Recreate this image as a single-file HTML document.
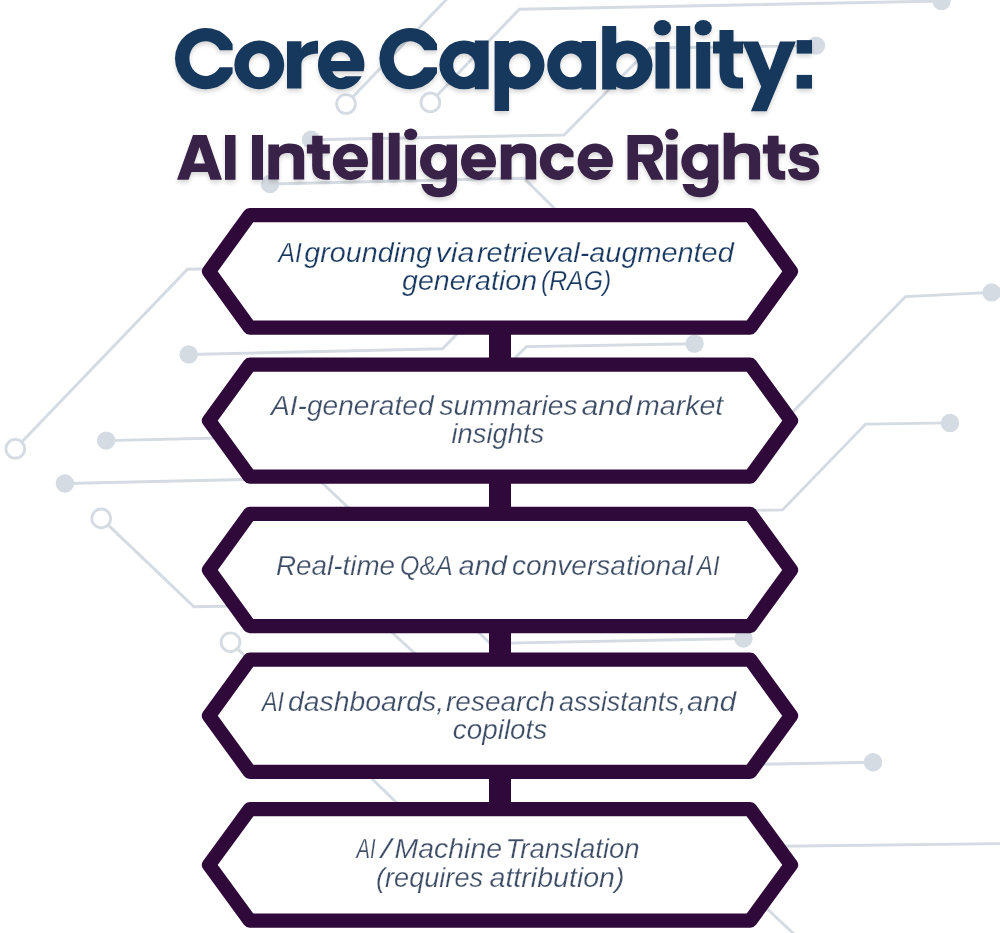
<!DOCTYPE html>
<html><head><meta charset="utf-8"><title>Core Capability: AI Intelligence Rights</title>
<style>
html,body{margin:0;padding:0;background:#ffffff;}
body{width:1000px;height:933px;overflow:hidden;font-family:"Liberation Sans", sans-serif;}
svg{display:block;}
</style></head><body>
<svg width="1000" height="933" viewBox="0 0 1000 933">
<defs>
<filter id="sh" x="-5%" y="-20%" width="110%" height="150%">
<feGaussianBlur in="SourceAlpha" stdDeviation="2.2"/>
<feOffset dx="0" dy="2.5" result="b"/>
<feComponentTransfer><feFuncA type="linear" slope="0.16"/></feComponentTransfer>
<feMerge><feMergeNode/><feMergeNode in="SourceGraphic"/></feMerge>
</filter>
<filter id="nf" x="-5%" y="-10%" width="110%" height="120%"><feOffset dx="0" dy="0"/></filter>
</defs>
<rect width="1000" height="933" fill="#ffffff"/>

<g fill="none" stroke="#d5dbe2" stroke-width="2.9" stroke-linejoin="miter">
<polyline points="447.8,-2 346,104"/>
<polyline points="941.6,1 519.3,9.2 430.4,102.4"/>
<polyline points="816,45.6 650,48 564,135 311,139.8"/>
<polyline points="270,184 524,178.2 560,214"/>
<polyline points="15.3,448.8 187.5,269.3 230,268.5"/>
<polyline points="188.7,354.5 442.4,348.7 462,329"/>
<polyline points="510,363 526.4,346.6 694.6,343.7"/>
<polyline points="106.1,440.6 240,437.5"/>
<polyline points="64.9,483.5 260,479.2"/>
<polyline points="101.2,518.4 193.9,606.8 240,606"/>
<polyline points="230.5,642.2 260,670"/>
<polyline points="316,477 355,514"/>
<polyline points="385,626 421,659"/>
<polyline points="472,626 496,649"/>
<polyline points="505,643.2 743.5,638.5"/>
<polyline points="365,772 403,809"/>
<polyline points="991.6,292.4 905.5,296.6 785,420"/>
<polyline points="950,422.9 865.6,424.1 782.5,509.9 740,510.5"/>
<polyline points="873,762.3 750,764.5"/>
<polyline points="780,846.2 1002,843.6"/>
<polyline points="760,902 795,935"/>
</g>
<g fill="#d5dbe2">
<circle cx="941.6" cy="1" r="9.2"/>
<circle cx="816" cy="45.6" r="9.2"/>
<circle cx="311" cy="139.8" r="9.2"/>
<circle cx="270" cy="184" r="9.2"/>
<circle cx="188.7" cy="354.5" r="9.2"/>
<circle cx="694.6" cy="343.7" r="9.2"/>
<circle cx="106.1" cy="440.6" r="9.2"/>
<circle cx="64.9" cy="483.5" r="9.2"/>
<circle cx="991.6" cy="292.4" r="9.2"/>
<circle cx="950" cy="422.9" r="9.2"/>
<circle cx="743.5" cy="638.5" r="9.2"/>
<circle cx="873" cy="762.3" r="9.2"/>
</g>
<g fill="#ffffff" stroke="#d5dbe2" stroke-width="2.8">
<circle cx="346" cy="104" r="9.4"/>
<circle cx="430.4" cy="102.4" r="9.4"/>
<circle cx="15.3" cy="448.8" r="9.4"/>
<circle cx="101.2" cy="518.4" r="9.4"/>
<circle cx="230.5" cy="642.2" r="9.4"/>
</g>
<g filter="url(#sh)" font-family="Liberation Sans">
<text x="787.0" y="179.2" fill="#392247" font-weight="bold" font-style="normal" font-size="65" textLength="33.79" lengthAdjust="spacingAndGlyphs" stroke="#392247" stroke-width="2" stroke-linejoin="miter" stroke-miterlimit="2">s</text>
<g fill="#18375c">
<path d="M232.60,44.2 A30.6,30.6 0 1,0 232.60,73.0 L232.60,67.3 L219.60,67.3 A16.2,17.4 0 1,1 219.80,50.2 L232.60,50.2 Z"/>
<path fill-rule="evenodd" d="M234.40,64.90 a24.9,24.3 0 1,0 49.80,0 a24.9,24.3 0 1,0 -49.80,0 Z M248.80,65.20 a10.4,12 0 1,0 20.80,0 a10.4,12 0 1,0 -20.80,0 Z"/>
<path d="M287,41.2 H301.4 V48.4 C305,43 311,40.75 318,40.75 V53.4 C309,53.4 302,57 301.4,63.7 V88.6 H287 Z"/>
<path fill-rule="evenodd" d="M363.56,71.35 A23.2,24.5 0 1,0 361.7,76.3 L345.5,76.3 A9.7,13 0 0,1 332.24,71.35 Z M331,61 A9.7,9 0 0,1 350.4,61 Z"/>
<path d="M437.00,44.2 A30.6,30.6 0 1,0 437.00,73.0 L437.00,67.3 L424.00,67.3 A16.2,17.4 0 1,1 424.20,50.2 L437.00,50.2 Z"/>
<path fill-rule="nonzero" d="M439.40,64.90 a24.6,24.4 0 1,0 49.20,0 a24.6,24.4 0 1,0 -49.20,0 Z M474.8,40.6 V89.30 H488.60 V40.6 Z M453.20,65.20 a10.8,11.8 0 1,1 21.60,0 a10.8,11.8 0 1,1 -21.60,0 Z"/>
<path fill-rule="nonzero" d="M494.70,65.05 a24.9,24.45 0 1,0 49.80,0 a24.9,24.45 0 1,0 -49.80,0 Z M494.6,41 V111.10 H509.00 V41 Z M509.00,65.35 a10.7,11.95 0 1,1 21.40,0 a10.7,11.95 0 1,1 -21.40,0 Z"/>
<path fill-rule="nonzero" d="M547.20,65.05 a24.4,24.45 0 1,0 48.80,0 a24.4,24.45 0 1,0 -48.80,0 Z M581.6,41 V89.60 H596.00 V41 Z M560.10,65.35 a10.75,11.95 0 1,1 21.50,0 a10.75,11.95 0 1,1 -21.50,0 Z"/>
<path fill-rule="nonzero" d="M602.70,65.05 a24.9,24.45 0 1,0 49.80,0 a24.9,24.45 0 1,0 -49.80,0 Z M602.2,26.1 V89.60 H616.20 V26.1 Z M616.20,65.35 a10.75,11.95 0 1,1 21.50,0 a10.75,11.95 0 1,1 -21.50,0 Z"/>
<ellipse cx="662.5" cy="27.8" rx="8.6" ry="7.8"/>
<rect x="655.5" y="42" width="14" height="46.6"/>
<rect x="676.2" y="26" width="14" height="62.6"/>
<ellipse cx="703.2" cy="27.8" rx="8.6" ry="7.8"/>
<rect x="696.2" y="42" width="14" height="46.6"/>
<path d="M719.5,30 H733.5 V41.5 H743 V53.5 H733.5 V71.5 Q733.5,77.5 739.5,77.5 H743 V88.6 H736.5 Q719.5,88.6 719.5,71 V53.5 H713 V41.5 H719.5 Z"/>
<path d="M742.3,41.4 L758.2,41.4 L769.7,70.2 L780,41.4 L795.9,41.4 L766.7,111.3 L750.9,111.3 L761.2,86.5 Z"/>
<rect x="796.7" y="40.1" width="15.3" height="13.5"/>
<rect x="796.7" y="74.9" width="15.3" height="13.7"/>
</g>
<g fill="#392247">
<path d="M268.4,179.6 V144.5 H279.10 V147.50 C281.60,144.80 285.10,143.4 289.10,143.4 C300.20,143.4 304.2,147.50 304.2,155.50 V179.6 H293.50 V158.00 C293.50,155.00 291.50,153.0 288.00,153.0 C282.10,153.0 279.10,155.50 279.10,159.50 V179.6 Z"/>
<path fill-rule="evenodd" d="M367.26,167.04 A17.6,18.15 0 1,0 366.06,170.13 L354.17,170.13 A7.39,9.62 0 0,1 344.18,167.04 Z M343.01,159.18 A7.30,7.13 0 0,1 357.62,159.18 Z"/>
<path fill-rule="nonzero" d="M420.00,161.75 a17.75,17.75 0 1,0 35.50,0 a17.75,17.75 0 1,0 -35.50,0 Z M446.5,144.5 V183.50 H457.00 V144.5 Z M431.00,161.50 a7.75,9.5 0 1,1 15.50,0 a7.75,9.5 0 1,1 -15.50,0 Z"/>
<path d="M457,180 V183 C457,192.5 449.5,197.2 439,197.2 C430,197.2 423,193.5 421.2,184 H432.5 C433.5,187 436,188.3 439,188.3 C443.5,188.3 446.5,185.5 446.5,181 V180 Z"/>
<path fill-rule="evenodd" d="M495.27,167.15 A17.5,18 0 1,0 494.07,170.21 L482.25,170.21 A7.35,9.54 0 0,1 472.31,167.15 Z M471.15,159.35 A7.26,7.07 0 0,1 485.68,159.35 Z"/>
<path d="M500.8,179.6 V144.5 H511.50 V147.50 C514.00,144.80 517.50,143.4 521.50,143.4 C532.20,143.4 536.2,147.50 536.2,155.50 V179.6 H525.50 V158.00 C525.50,155.00 523.50,153.0 520.00,153.0 C514.50,153.0 511.50,155.50 511.50,159.50 V179.6 Z"/>
<path d="M573.50,151.81 A18.3,18.3 0 1,0 573.50,171.59 L573.50,166.20 L564.29,166.20 A7.2,8.8 0 1,1 564.29,157.20 L573.50,157.20 Z"/>
<path fill-rule="evenodd" d="M612.26,166.93 A17.7,18.3 0 1,0 611.05,170.04 L599.09,170.04 A7.43,9.70 0 0,1 589.04,166.93 Z M587.87,159.01 A7.35,7.19 0 0,1 602.56,159.01 Z"/>
<path fill-rule="evenodd" d="M627.5,179.7 V135 H651 C658.5,135 663,140.5 663,148.5 C663,155 659.5,159.5 654,161.3 L663.5,179.7 H651.5 L642,162 H638 V179.7 Z M638,144 H650 C652.5,144 653.5,146 653.5,149.25 C653.5,152.5 652.5,154.5 650,154.5 H638 Z"/>
<path fill-rule="nonzero" d="M681.30,161.75 a17.75,17.75 0 1,0 35.50,0 a17.75,17.75 0 1,0 -35.50,0 Z M707.8,144.5 V183.50 H718.30 V144.5 Z M692.30,161.50 a7.75,9.5 0 1,1 15.50,0 a7.75,9.5 0 1,1 -15.50,0 Z"/>
<path d="M718.3,180 V183 C718.3,192.5 710.8,197.2 700.3,197.2 C691.3,197.2 684.3,193.5 682.5,184 H693.8 C694.8,187 697.3,188.3 700.3,188.3 C704.8,188.3 707.8,185.5 707.8,181 V180 Z"/>
<path d="M723.7,179.6 V132.7 H734.70 V147.50 C737.20,144.80 740.70,143.4 744.70,143.4 C756.10,143.4 760.1,147.50 760.1,155.50 V179.6 H749.10 V158.00 C749.10,155.00 747.10,153.0 743.60,153.0 C737.70,153.0 734.70,155.50 734.70,159.50 V179.6 Z"/>
<path fill-rule="evenodd" d="M177,179.8 L193,135 L206.5,135 L222,179.8 L210.5,179.8 L207.8,172 L191.5,172 L188.6,179.8 Z M194,163.5 L205,163.5 L199.5,147 Z"/>
<rect x="225" y="135" width="10.5" height="44.8"/>
<rect x="252" y="135" width="11" height="44.8"/>
<path d="M312.2,135.8 H322.6 V144.5 H329.8 V153.5 H322.6 V166.5 Q322.6,171.1 327,171.1 H329.8 V179.7 H326 Q312.2,179.7 312.2,166 V153.5 H306.9 V144.5 H312.2 Z"/>
<rect x="372.3" y="132.8" width="10.8" height="46.9"/>
<rect x="388.8" y="132.8" width="10.8" height="46.9"/>
<ellipse cx="410.7" cy="134.3" rx="6.6" ry="5.8"/>
<rect x="405.4" y="144.8" width="10.6" height="34.9"/>
<ellipse cx="671.7" cy="134.2" rx="6.5" ry="5.8"/>
<rect x="666.2" y="144.5" width="11.2" height="35.2"/>
<path d="M767.8,135.8 H778.6 V144.5 H785.2 V153.5 H778.6 V166.5 Q778.6,171.1 782.5,171.1 H785.2 V179.7 H781.5 Q767.8,179.7 767.8,166 V153.5 H762.9 V144.5 H767.8 Z"/>
</g>
</g>
<rect x="489" y="332.70" width="22" height="26.80" fill="#30093b"/>
<rect x="489" y="481.80" width="22" height="27.05" fill="#30093b"/>
<rect x="489" y="631.15" width="22" height="23.45" fill="#30093b"/>
<rect x="489" y="776.90" width="22" height="27.20" fill="#30093b"/>
<path d="M249.7,215.10 L750.3,215.10 L791,271.35 L750.3,327.60 L249.7,327.60 L209,271.35 Z" fill="#ffffff" stroke="#30093b" stroke-width="14.2" stroke-linejoin="round"/>
<path d="M249.7,364.60 L750.3,364.60 L791,420.65 L750.3,476.70 L249.7,476.70 L209,420.65 Z" fill="#ffffff" stroke="#30093b" stroke-width="14.2" stroke-linejoin="round"/>
<path d="M249.7,513.95 L750.3,513.95 L791,570.00 L750.3,626.05 L249.7,626.05 L209,570.00 Z" fill="#ffffff" stroke="#30093b" stroke-width="14.2" stroke-linejoin="round"/>
<path d="M249.7,659.70 L750.3,659.70 L791,715.75 L750.3,771.80 L249.7,771.80 L209,715.75 Z" fill="#ffffff" stroke="#30093b" stroke-width="14.2" stroke-linejoin="round"/>
<path d="M249.7,809.20 L750.3,809.20 L791,864.90 L750.3,920.60 L249.7,920.60 L209,864.90 Z" fill="#ffffff" stroke="#30093b" stroke-width="14.2" stroke-linejoin="round"/>
<g font-family="Liberation Sans" filter="url(#nf)">
<text x="278.5" y="261.7" fill="#1a3961" font-weight="normal" font-style="italic" font-size="27" textLength="23.27" lengthAdjust="spacingAndGlyphs" stroke="#fff" stroke-width="0.25">AI</text>
<text x="304.25" y="261.7" fill="#1a3961" font-weight="normal" font-style="italic" font-size="27" textLength="127.77" lengthAdjust="spacingAndGlyphs" stroke="#fff" stroke-width="0.25">grounding</text>
<text x="435.5" y="261.7" fill="#1a3961" font-weight="normal" font-style="italic" font-size="27" textLength="39.0" lengthAdjust="spacingAndGlyphs" stroke="#fff" stroke-width="0.25">via</text>
<text x="477.0" y="261.7" fill="#1a3961" font-weight="normal" font-style="italic" font-size="27" textLength="256.75" lengthAdjust="spacingAndGlyphs" stroke="#fff" stroke-width="0.25">retrieval-augmented</text>
<text x="402.0" y="290.3" fill="#1a3961" font-weight="normal" font-style="italic" font-size="27" textLength="135.03" lengthAdjust="spacingAndGlyphs" stroke="#fff" stroke-width="0.25">generation</text>
<text x="541.0" y="290.3" fill="#1a3961" font-weight="normal" font-style="italic" font-size="27" textLength="70.15" lengthAdjust="spacingAndGlyphs" stroke="#fff" stroke-width="0.25">(RAG)</text>
<text x="271.0" y="414.5" fill="#3e4d66" font-weight="normal" font-style="italic" font-size="27" textLength="162.51" lengthAdjust="spacingAndGlyphs" stroke="#fff" stroke-width="0.25">AI-generated</text>
<text x="439.5" y="414.5" fill="#3e4d66" font-weight="normal" font-style="italic" font-size="27" textLength="138.03" lengthAdjust="spacingAndGlyphs" stroke="#fff" stroke-width="0.25">summaries</text>
<text x="581.5" y="414.5" fill="#3e4d66" font-weight="normal" font-style="italic" font-size="27" textLength="50.52" lengthAdjust="spacingAndGlyphs" stroke="#fff" stroke-width="0.25">and</text>
<text x="636.0" y="414.5" fill="#3e4d66" font-weight="normal" font-style="italic" font-size="27" textLength="87.26" lengthAdjust="spacingAndGlyphs" stroke="#fff" stroke-width="0.25">market</text>
<text x="451.5" y="443.25" fill="#3e4d66" font-weight="normal" font-style="italic" font-size="27" textLength="92.54" lengthAdjust="spacingAndGlyphs" stroke="#fff" stroke-width="0.25">insights</text>
<text x="276.0" y="574.7" fill="#3e4d66" font-weight="normal" font-style="italic" font-size="27" textLength="119.03" lengthAdjust="spacingAndGlyphs" stroke="#fff" stroke-width="0.25">Real-time</text>
<text x="400.0" y="574.7" fill="#3e4d66" font-weight="normal" font-style="italic" font-size="27" textLength="52.67" lengthAdjust="spacingAndGlyphs" stroke="#fff" stroke-width="0.25">Q&amp;A</text>
<text x="458.5" y="574.7" fill="#3e4d66" font-weight="normal" font-style="italic" font-size="27" textLength="48.51" lengthAdjust="spacingAndGlyphs" stroke="#fff" stroke-width="0.25">and</text>
<text x="512.0" y="574.7" fill="#3e4d66" font-weight="normal" font-style="italic" font-size="27" textLength="181.0" lengthAdjust="spacingAndGlyphs" stroke="#fff" stroke-width="0.25">conversational</text>
<text x="697.0" y="574.7" fill="#3e4d66" font-weight="normal" font-style="italic" font-size="27" textLength="22.52" lengthAdjust="spacingAndGlyphs" stroke="#fff" stroke-width="0.25">AI</text>
<text x="262.0" y="710.5" fill="#3e4d66" font-weight="normal" font-style="italic" font-size="27" textLength="22.03" lengthAdjust="spacingAndGlyphs" stroke="#fff" stroke-width="0.25">AI</text>
<text x="288.0" y="710.5" fill="#3e4d66" font-weight="normal" font-style="italic" font-size="27" textLength="156.18" lengthAdjust="spacingAndGlyphs" stroke="#fff" stroke-width="0.25">dashboards,</text>
<text x="446.0" y="710.5" fill="#3e4d66" font-weight="normal" font-style="italic" font-size="27" textLength="109.05" lengthAdjust="spacingAndGlyphs" stroke="#fff" stroke-width="0.25">research</text>
<text x="559.0" y="710.5" fill="#3e4d66" font-weight="normal" font-style="italic" font-size="27" textLength="127.17" lengthAdjust="spacingAndGlyphs" stroke="#fff" stroke-width="0.25">assistants,</text>
<text x="687.0" y="710.5" fill="#3e4d66" font-weight="normal" font-style="italic" font-size="27" textLength="49.03" lengthAdjust="spacingAndGlyphs" stroke="#fff" stroke-width="0.25">and</text>
<text x="452.75" y="738.75" fill="#3e4d66" font-weight="normal" font-style="italic" font-size="27" textLength="94.56" lengthAdjust="spacingAndGlyphs" stroke="#fff" stroke-width="0.25">copilots</text>
<text x="356.5" y="857.75" fill="#3e4d66" font-weight="normal" font-style="italic" font-size="27" textLength="19.02" lengthAdjust="spacingAndGlyphs" stroke="#fff" stroke-width="0.25">AI</text>
<text x="381.0" y="857.75" fill="#3e4d66" font-weight="normal" font-style="italic" font-size="27" textLength="10.17" lengthAdjust="spacingAndGlyphs" stroke="#fff" stroke-width="0.25">/</text>
<text x="394.5" y="857.75" fill="#3e4d66" font-weight="normal" font-style="italic" font-size="27" textLength="107.56" lengthAdjust="spacingAndGlyphs" stroke="#fff" stroke-width="0.25">Machine</text>
<text x="505.5" y="857.75" fill="#3e4d66" font-weight="normal" font-style="italic" font-size="27" textLength="134.14" lengthAdjust="spacingAndGlyphs" stroke="#fff" stroke-width="0.25">Translation</text>
<text x="376.0" y="886.7" fill="#3e4d66" font-weight="normal" font-style="italic" font-size="27" textLength="107.04" lengthAdjust="spacingAndGlyphs" stroke="#fff" stroke-width="0.25">(requires</text>
<text x="489.5" y="886.7" fill="#3e4d66" font-weight="normal" font-style="italic" font-size="27" textLength="135.05" lengthAdjust="spacingAndGlyphs" stroke="#fff" stroke-width="0.25">attribution)</text>
</g>
</svg></body></html>
